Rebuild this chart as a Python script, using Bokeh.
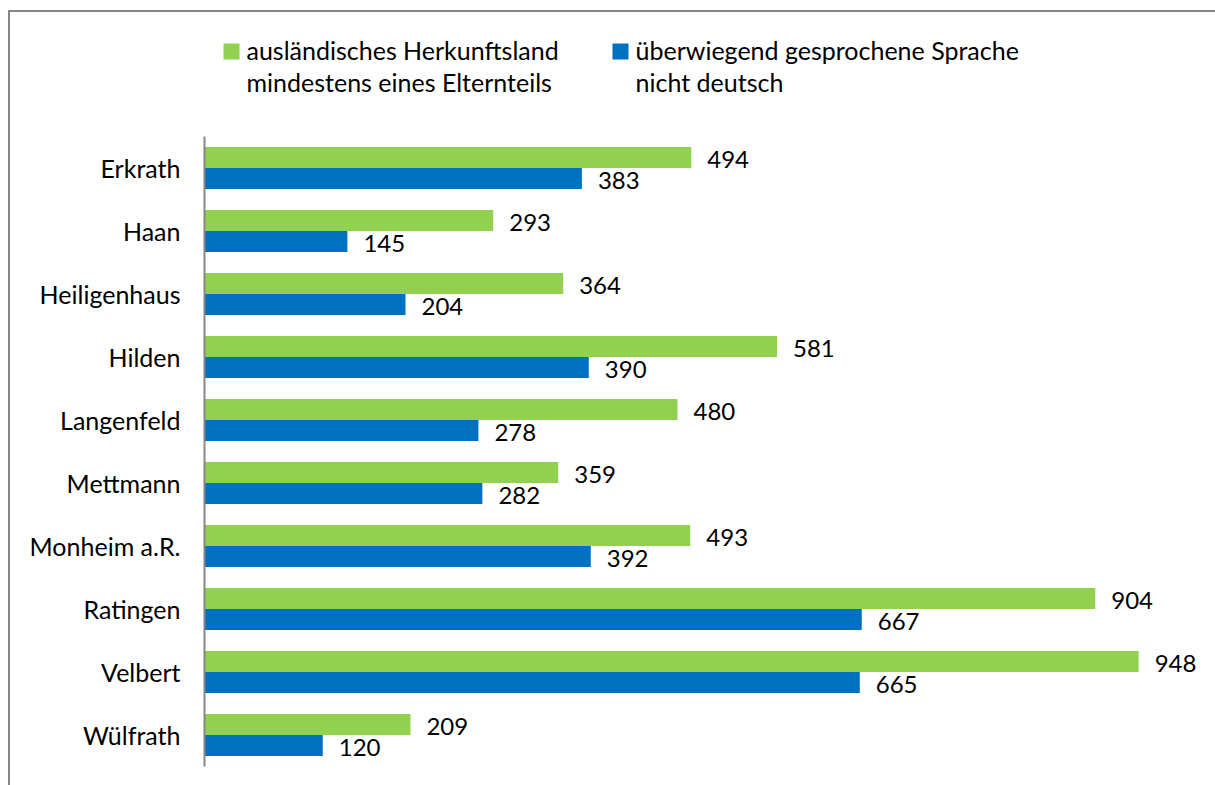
from bokeh.plotting import figure
from bokeh.layouts import column
from bokeh.models import ColumnDataSource, FactorRange, Range1d
from bokeh.transform import dodge
from bokeh.core.properties import value
from bokeh.embed import file_html
from bokeh.resources import INLINE

cities = ["Erkrath", "Haan", "Heiligenhaus", "Hilden", "Langenfeld", "Mettmann",
          "Monheim a.R.", "Ratingen", "Velbert", "Wülfrath"]
herkunft = [494, 293, 364, 581, 480, 359, 493, 904, 948, 209]
sprache = [383, 145, 204, 390, 278, 282, 392, 667, 665, 120]
series_line1 = ["ausländisches Herkunftsland", "überwiegend gesprochene Sprache"]
series_line2 = ["mindestens eines Elternteils", "nicht deutsch"]
colors = ["#92D050", "#0070C0"]

FONT = "Lato"
W = 1205
FRAME_W = 1011

# ---------- legend strip (pixel coordinates relative to the chart frame, y downward) ----------
leg = figure(width=W, height=124, x_range=Range1d(0, FRAME_W), y_range=Range1d(124, 0),
             output_backend="svg", toolbar_location=None,
             min_border=0, min_border_left=194, min_border_right=0,
             min_border_top=0, min_border_bottom=0)
leg.axis.visible = False
leg.grid.visible = False
leg.outline_line_color = None
leg_x = [27, 416]
leg_src = ColumnDataSource(dict(x=leg_x, tx=[x + 15 for x in leg_x], color=colors,
                                l1=series_line1, l2=series_line2))
leg.rect(x="x", y=39, width=16, height=16, width_units="screen", height_units="screen",
         fill_color="color", line_color=None, source=leg_src)
leg.text(x="tx", y=37.5, text="l1", source=leg_src, text_baseline="middle",
         text_font=value(FONT), text_font_size="25px", text_color="#000000")
leg.text(x="tx", y=69.5, text="l2", source=leg_src, text_baseline="middle",
         text_font=value(FONT), text_font_size="25px", text_color="#000000")

# ---------- main chart ----------
src = ColumnDataSource(dict(city=cities, herkunft=herkunft, sprache=sprache,
                            hl=[str(v) for v in herkunft], sl=[str(v) for v in sprache]))

p = figure(y_range=FactorRange(*list(reversed(cities)), range_padding=0),
           x_range=Range1d(0, 1026),
           width=W, height=649, output_backend="svg", toolbar_location=None,
           min_border_left=194, min_border_right=0, min_border_top=0, min_border_bottom=19)

bh = 0.335
p.hbar(y=dodge("city", 0.1675, range=p.y_range), right="herkunft", left=0, height=bh,
       source=src, fill_color=colors[0], line_color=None)
p.hbar(y=dodge("city", -0.1675, range=p.y_range), right="sprache", left=0, height=bh,
       source=src, fill_color=colors[1], line_color=None)

p.text(x="herkunft", y=dodge("city", 0.1675, range=p.y_range), text="hl", source=src,
       x_offset=16, y_offset=2, text_baseline="middle", text_align="left",
       text_font=value(FONT), text_font_size="24px", text_color="#000000")
p.text(x="sprache", y=dodge("city", -0.1675, range=p.y_range), text="sl", source=src,
       x_offset=16, y_offset=2, text_baseline="middle", text_align="left",
       text_font=value(FONT), text_font_size="24px", text_color="#000000")

p.xaxis.visible = False
p.xgrid.visible = False
p.ygrid.visible = False
p.outline_line_color = None
p.yaxis.axis_line_color = "#868686"
p.yaxis.axis_line_width = 2
p.yaxis.major_tick_out = 0
p.yaxis.major_tick_in = 0
p.yaxis.minor_tick_out = 0
p.yaxis.major_label_standoff = 24
p.yaxis.major_label_text_font = FONT
p.yaxis.major_label_text_font_size = "25px"
p.yaxis.major_label_text_color = "#000000"

layout = column(leg, p, spacing=0)
layout.margin = (10, 0, 0, 8)
layout.styles = {"border-left": "2px solid #868686", "border-top": "2px solid #868686"}

open("out.html", "w").write(file_html(layout, INLINE))
